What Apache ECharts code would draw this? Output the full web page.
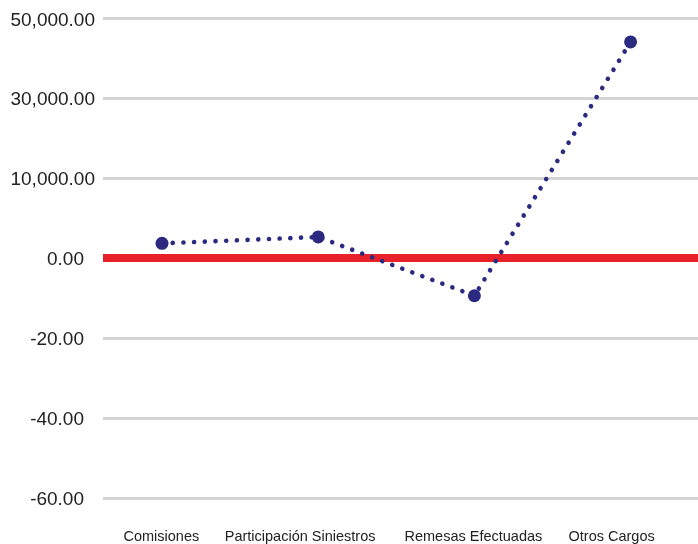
<!DOCTYPE html>
<html>
<head>
<meta charset="utf-8">
<script src="https://cdn.jsdelivr.net/npm/echarts@6/dist/echarts.min.js"></script>
<style>html,body{margin:0;padding:0;background:#fff}#c{width:698px;height:544px}</style>
</head>
<body>
<div id="c"></div>
<script>
var categories = ['Comisiones', 'Participación Siniestros', 'Remesas Efectuadas', 'Otros Cargos'];
var values = [1850, 2650, -9.4, 44100];
var tickValues = [-60, -40, -20, 0, 10000, 30000, 50000];
var tickLabels = ['-60.00', '-40.00', '-20.00', '0.00', '10,000.00', '30,000.00', '50,000.00'];

// piecewise-linear mapping of the broken axis: each tick is one display unit
function toDisplay(v) {
  for (var i = 0; i < tickValues.length - 1; i++) {
    var a = tickValues[i], b = tickValues[i + 1];
    if (v <= b || i === tickValues.length - 2) {
      return (i + (v - a) / (b - a)) - 3;
    }
  }
}

var chart = echarts.init(document.getElementById('c'), null, {renderer: 'canvas'});
var font = 'Liberation Sans, Arial, sans-serif';
var catPad = [32, 52, 3, 24];
var catRich = {};
catPad.forEach(function (p, i) { catRich['c' + i] = {padding: [0, p, 0, 0], fontSize: 14.5, color: '#222', fontFamily: font}; });

chart.setOption({
  animation: false,
  grid: {left: 103, right: 0, top: 18.3, bottom: 45.7},
  xAxis: [{
    type: 'value', min: -0.3777, max: 3.4315,
    axisLine: {show: false}, axisTick: {show: false}, axisLabel: {show: false}, splitLine: {show: false}
  }, {
    type: 'category', data: categories, boundaryGap: true, position: 'bottom',
    axisLine: {show: false}, axisTick: {show: false}, splitLine: {show: false},
    axisLabel: {
      margin: 31, interval: 0,
      formatter: function (v, i) { return '{c' + i + '|' + v + '}'; },
      rich: catRich
    }
  }],
  yAxis: {
    type: 'value', min: -3, max: 3, interval: 1,
    axisLine: {show: false}, axisTick: {show: false},
    splitLine: {lineStyle: {color: '#d4d4d4', width: 3}},
    axisLabel: {
      margin: 8,
      formatter: function (v) {
        var idx = Math.round(v) + 3;
        var t = tickLabels[idx];
        return (tickValues[idx] > 0 ? '{p|' : '{n|') + t + '}';
      },
      rich: {
        p: {fontSize: 19, color: '#222', fontFamily: font, padding: [4, 0, 0, 0]},
        n: {fontSize: 19, color: '#222', fontFamily: font, padding: [4, 11, 0, 0]}
      }
    }
  },
  series: [{
    type: 'line', data: [], z: 1, silent: true,
    markLine: {
      symbol: 'none', silent: true, label: {show: false},
      lineStyle: {color: '#e8202a', width: 8, type: 'solid'},
      data: [{yAxis: 0}]
    }
  }, {
    type: 'line', z: 5,
    xAxisIndex: 0,
    data: values.map(function (v, i) { return [i, toDisplay(v)]; }),
    symbol: 'circle', symbolSize: 13,
    itemStyle: {color: '#2b2a80'},
    lineStyle: {color: '#2b2a80', width: 4.6, type: [0.1, 10.6], cap: 'round'}
  }]
});
</script>
</body>
</html>
